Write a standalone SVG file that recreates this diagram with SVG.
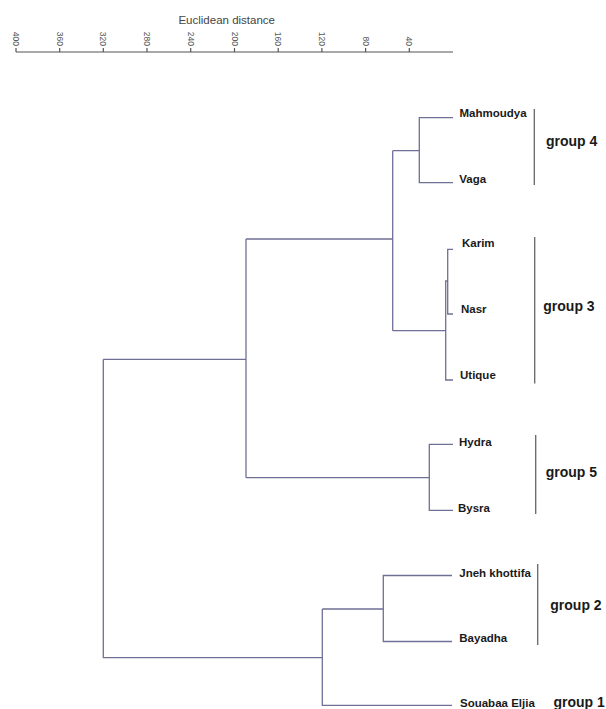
<svg xmlns="http://www.w3.org/2000/svg" width="606" height="709" viewBox="0 0 606 709">
<style>
.ax{stroke:#555;stroke-width:1.2;fill:none}
.tl{font-family:"Liberation Sans",Arial,sans-serif;font-size:8.5px;fill:#555}
.ttl{font-family:"Liberation Sans",Arial,sans-serif;font-size:11.5px;fill:#444}
.br{stroke:#707096;stroke-width:1.3;fill:none}
.bar{stroke:#666;stroke-width:1.3}
.lf{font-family:"Liberation Sans",Arial,sans-serif;font-size:11.5px;font-weight:bold;fill:#1a1a1a}
.gp{font-family:"Liberation Sans",Arial,sans-serif;font-size:14px;font-weight:bold;fill:#1a1a1a}
</style>
<rect width="606" height="709" fill="#fff"/>
<g id="axis">
<text class="ttl" x="226.7" y="24" text-anchor="middle">Euclidean distance</text>
<path class="ax" d="M16,52H453M16,48V52M59.7,48V52M103.3,48V52M147,48V52M190.7,48V52M234.5,48V52M278.2,48V52M321.9,48V52M365.6,48V52M409.3,48V52"/>
<g class="tl" text-anchor="end">
<text transform="translate(16,46) rotate(90)" y="3">400</text>
<text transform="translate(59.7,46) rotate(90)" y="3">360</text>
<text transform="translate(103.3,46) rotate(90)" y="3">320</text>
<text transform="translate(147,46) rotate(90)" y="3">280</text>
<text transform="translate(190.7,46) rotate(90)" y="3">240</text>
<text transform="translate(234.5,46) rotate(90)" y="3">200</text>
<text transform="translate(278.2,46) rotate(90)" y="3">160</text>
<text transform="translate(321.9,46) rotate(90)" y="3">120</text>
<text transform="translate(365.6,46) rotate(90)" y="3">80</text>
<text transform="translate(409.3,46) rotate(90)" y="3">40</text>
</g>
</g>
<g id="connectors">
<path class="br" d="M453,117.7H419.3V182.7H453M419.3,150.7H392.7"/>
<path class="br" d="M453,249.3H447.7V314H453M447.7,281H445.7V380H453M445.7,330.7H392.7"/>
<path class="br" d="M392.7,150.7V330.7M392.7,239H246"/>
<path class="br" d="M453,444.3H429.3V510.3H453M429.3,477.7H246"/>
<path class="br" d="M246,239V477.7M246,359.3H103.3"/>
<path class="br" d="M452,575.5H383.3V641.5H452M383.3,609H322.3M322.3,609V705.3H452"/>
<path class="br" d="M103.3,359.3V657.7H322.3"/>
</g>
<g id="leaf-mahmoudya"><text class="lf" x="459.5" y="117">Mahmoudya</text></g>
<g id="leaf-vaga"><text class="lf" x="459.3" y="182.5">Vaga</text></g>
<g id="leaf-karim"><text class="lf" x="462" y="246.5">Karim</text></g>
<g id="leaf-nasr"><text class="lf" x="461" y="313">Nasr</text></g>
<g id="leaf-utique"><text class="lf" x="460" y="379">Utique</text></g>
<g id="leaf-hydra"><text class="lf" x="459" y="446">Hydra</text></g>
<g id="leaf-bysra"><text class="lf" x="458" y="512">Bysra</text></g>
<g id="leaf-jneh"><text class="lf" x="459.3" y="576.5">Jneh khottifa</text></g>
<g id="leaf-bayadha"><text class="lf" x="459.3" y="642">Bayadha</text></g>
<g id="leaf-souabaa"><text class="lf" x="460" y="707">Souabaa Eljia</text></g>
<g id="group4"><line class="bar" x1="534.3" y1="109" x2="534.3" y2="185"/><text class="gp" x="546" y="146.3">group 4</text></g>
<g id="group3"><line class="bar" x1="534.7" y1="237" x2="534.7" y2="383.5"/><text class="gp" x="543.3" y="310.5">group 3</text></g>
<g id="group5"><line class="bar" x1="535.7" y1="435" x2="535.7" y2="514"/><text class="gp" x="545.7" y="476.5">group 5</text></g>
<g id="group2"><line class="bar" x1="537.7" y1="564" x2="537.7" y2="645"/><text class="gp" x="550.3" y="610">group 2</text></g>
<g id="group1"><text class="gp" x="553.5" y="706.7">group 1</text></g>
</svg>
